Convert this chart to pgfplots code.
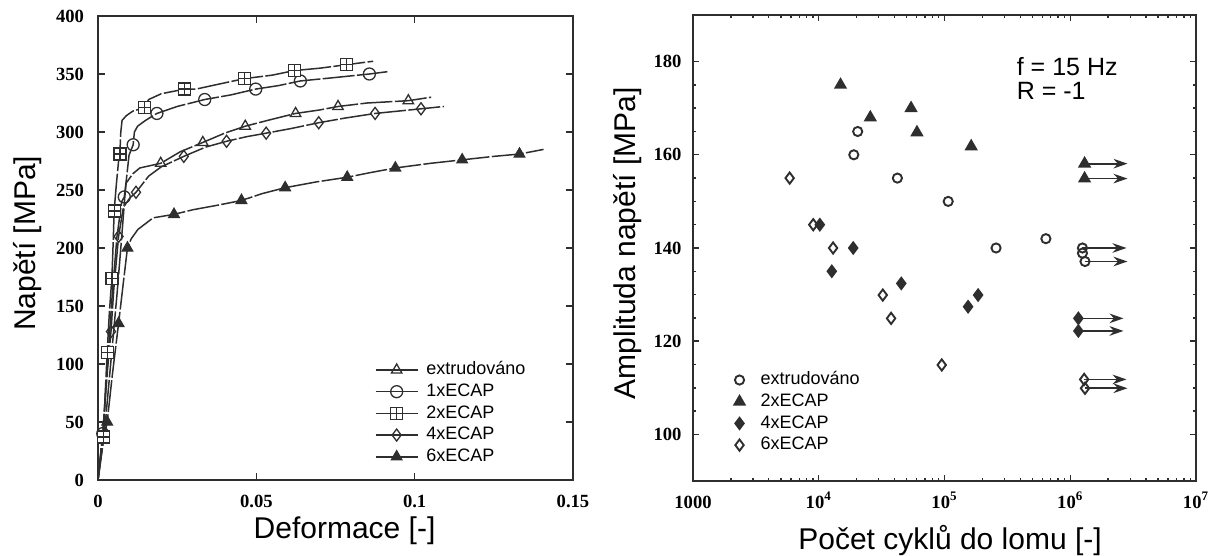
\documentclass[border=0pt]{standalone}
\usepackage{fontspec}
\setmainfont{Liberation Sans}
\newfontfamily\tickfont{Liberation Serif}
\usepackage{pgfplots}
\pgfplotsset{compat=1.18}
\usetikzlibrary{arrows.meta}
\definecolor{ink}{HTML}{2E2E2E}
\pgfdeclareplotmark{boxplus}{%
  \pgfpathrectangle{\pgfqpoint{-\pgfplotmarksize}{-\pgfplotmarksize}}{\pgfqpoint{2\pgfplotmarksize}{2\pgfplotmarksize}}%
  \pgfusepathqfillstroke
  \pgfpathmoveto{\pgfqpoint{-\pgfplotmarksize}{0pt}}\pgfpathlineto{\pgfqpoint{\pgfplotmarksize}{0pt}}%
  \pgfpathmoveto{\pgfqpoint{0pt}{-\pgfplotmarksize}}\pgfpathlineto{\pgfqpoint{0pt}{\pgfplotmarksize}}%
  \pgfusepathqstroke}
\pgfplotsset{
  curve/.style={ink, line width=0.75pt, no markers, dash pattern=on 16pt off 1.2pt},
  mk/.style={only marks, ink, line width=0.65pt, mark size=3pt, mark options={solid, fill=white}},
  mkr/.style={only marks, ink, line width=0.95pt, mark options={solid, fill=white}},
  frame/.style={
    scale only axis, anchor=south west,
    axis line style={ink, line width=1pt},
    every tick/.style={ink, line width=0.7pt},
    tick align=inside,
    tick label style={font=\tickfont\bfseries\fontsize{9.3}{10}\selectfont},
    /pgf/number format/assume math mode=true,
    label style={font=\fontsize{15}{18}\selectfont},
  },
}
\begin{document}
\begin{tikzpicture}
\useasboundingbox (0,0) rectangle (609.5pt,278pt);
% ---------------- left: tensile curves ----------------
\begin{axis}[frame,
  at={(49pt,38pt)}, width=237.5pt, height=232pt,
  xmin=0, xmax=0.15, ymin=0, ymax=400,
  xtick={0,0.05,0.1,0.15}, xticklabels={0,0.05,0.1,0.15},
  ytick={0,50,...,400},
  major tick length=3.5pt,
  xticklabel style={anchor=base, yshift=-13.5pt},
  yticklabel style={xshift=-3.5pt},
  xlabel={Deformace [-]},
  xlabel style={at={(axis description cs:0.519,-0.125)}, anchor=base},
  ylabel={Napětí [MPa]},
  ylabel style={at={(axis description cs:-0.1484,0.51)}, anchor=center},
  legend style={at={(axis description cs:0.583,0.255)}, anchor=north west,
    draw=none, fill=none, inner sep=0pt, outer sep=0pt,
    font=\fontsize{9}{10}\selectfont, row sep=2.55pt, column sep=4pt,
    nodes={inner sep=0pt, text height=6.5pt, text depth=1.8pt}},
  legend cell align=left,
  legend image code/.code={\draw[mark repeat=2,mark phase=2,#1] plot coordinates {(0pt,0pt) (10.5pt,0pt) (21pt,0pt)};},
]
% extrudovano
\addplot[curve, forget plot] coordinates {(0,0) (0.002,40) (0.004,100) (0.006,160) (0.0075,210) (0.0085,245) (0.0089,256) (0.0110,264) (0.0132,269) (0.0198,273) (0.0260,283) (0.0331,291) (0.0400,299) (0.0465,305) (0.0550,311) (0.0624,316) (0.0700,319) (0.0758,322) (0.0850,325) (0.0980,327) (0.1052,330)};
% 1xECAP
\addplot[curve, forget plot] coordinates {(0,0) (0.0015,40) (0.0030,100) (0.0045,160) (0.0060,210) (0.0075,240) (0.0083,244) (0.0090,260) (0.0098,280) (0.0111,289) (0.0115,300) (0.0125,305) (0.0150,310) (0.0186,316) (0.0250,322) (0.0337,328) (0.0420,332) (0.0498,337) (0.0570,340) (0.0639,344) (0.0750,347) (0.0857,350) (0.0914,352)};
% 2xECAP
\addplot[curve, forget plot] coordinates {(0,0) (0.0012,30) (0.0017,37) (0.0022,70) (0.0029,110) (0.0036,145) (0.0044,175) (0.0048,205) (0.0051,232) (0.0058,255) (0.0065,275) (0.0069,281) (0.0072,300) (0.0076,310) (0.0089,314) (0.0110,318) (0.0135,320) (0.0147,321) (0.0160,328) (0.0200,333) (0.0274,337) (0.0310,337) (0.0360,340) (0.0462,346) (0.0550,349) (0.0621,353) (0.0700,355) (0.0784,358) (0.0869,361)};
% 4xECAP
\addplot[curve, forget plot] coordinates {(0,0) (0.0015,40) (0.0030,95) (0.0041,128) (0.0050,165) (0.0065,210) (0.0080,235) (0.0100,243) (0.0120,248) (0.0160,262) (0.0200,270) (0.0271,279) (0.0340,287) (0.0406,292) (0.0470,296) (0.0531,299) (0.0610,303) (0.0697,308) (0.0780,312) (0.0875,316) (0.1020,320) (0.1092,322)};
% 6xECAP
\addplot[curve, forget plot] coordinates {(0,0) (0.0015,30) (0.0029,50) (0.0045,90) (0.0065,135) (0.0080,170) (0.0093,200) (0.0105,208) (0.0126,216) (0.0174,226) (0.0240,229) (0.0300,233) (0.0380,237) (0.0453,241) (0.0520,247) (0.0591,252) (0.0690,257) (0.0787,261) (0.0860,265) (0.0939,269) (0.1050,273) (0.1150,276) (0.1250,279) (0.1331,281) (0.1407,285)};
% markers
\addplot[mk, mark=triangle, forget plot] coordinates {(0.0198,273) (0.0331,291) (0.0465,305) (0.0624,316) (0.0758,322) (0.0980,327)};
\addplot[mk, mark=o, forget plot] coordinates {(0.0015,40) (0.0083,244) (0.0111,289) (0.0186,316) (0.0337,328) (0.0498,337) (0.0639,344) (0.0857,350)};
\addplot[mk, mark=boxplus, forget plot] coordinates {(0.0017,37) (0.0029,110) (0.0044,174) (0.0051,232) (0.0069,281) (0.0147,321) (0.0274,337) (0.0462,346) (0.0621,353) (0.0784,358)};
\addplot[mk, mark=diamond, forget plot] coordinates {(0.0041,128) (0.0065,210) (0.0120,248) (0.0271,279) (0.0406,292) (0.0531,299) (0.0697,308) (0.0875,316) (0.1020,320)};
\addplot[mk, mark=triangle*, mark options={solid, fill=ink}, forget plot] coordinates {(0.0029,50) (0.0065,135) (0.0093,200) (0.0240,229) (0.0453,241) (0.0591,252) (0.0787,261) (0.0939,269) (0.1150,276) (0.1331,281)};
\addlegendimage{ink, line width=0.75pt, mark=triangle, mark size=3pt, mark options={solid, fill=white, line width=0.65pt}}
\addlegendentry{extrudováno}
\addlegendimage{ink, line width=0.75pt, mark=o, mark size=3pt, mark options={solid, fill=white, line width=0.65pt}}
\addlegendentry{1xECAP}
\addlegendimage{ink, line width=0.75pt, mark=boxplus, mark size=3pt, mark options={solid, fill=white, line width=0.65pt}}
\addlegendentry{2xECAP}
\addlegendimage{ink, line width=0.75pt, mark=diamond, mark size=3pt, mark options={solid, fill=white, line width=0.65pt}}
\addlegendentry{4xECAP}
\addlegendimage{ink, line width=0.75pt, mark=triangle*, mark size=3pt, mark options={solid, fill=ink, line width=0.65pt}}
\addlegendentry{6xECAP}
\end{axis}
% ---------------- right: fatigue S-N ----------------
\begin{axis}[frame,
  at={(346.5pt,37.5pt)}, width=251.5pt, height=233pt,
  xmode=log, xmin=1000, xmax=1e7, ymin=90, ymax=190,
  xtick={1000,1e4,1e5,1e6,1e7},
  xticklabels={1000,10\textsuperscript{4},10\textsuperscript{5},10\textsuperscript{6},10\textsuperscript{7}},
  ytick={100,120,...,180}, minor y tick num=3,
  major tick length=3pt, minor tick length=1.6pt,
  xticklabel style={anchor=base, yshift=-13.5pt},
  yticklabel style={xshift=-2.25pt},
  xlabel={Počet cyklů do lomu [-]},
  xlabel style={at={(axis description cs:0.511,-0.148)}, anchor=base},
  ylabel={Amplituda napětí [MPa]},
  ylabel style={at={(axis description cs:-0.130,0.51)}, anchor=center},
  legend style={at={(axis description cs:0.0825,0.2345)}, anchor=north west,
    draw=none, fill=none, inner sep=0pt, outer sep=0pt,
    font=\fontsize{9}{10}\selectfont, row sep=2.55pt, column sep=8pt,
    nodes={inner sep=0pt, text height=6.5pt, text depth=1.8pt}},
  legend cell align=left,
  legend image code/.code={\draw[#1] plot coordinates {(0pt,0pt)};},
]
\pgfplotsset{arr/.style={ink, line width=0.85pt, -{Stealth[length=7pt,width=4.8pt]}, forget plot}}
\addplot[arr] coordinates {(1.30e6,158.1) (2.85e6,158.1)};
\addplot[arr] coordinates {(1.30e6,154.9) (2.85e6,154.9)};
\addplot[arr] coordinates {(1.25e6,140) (2.8e6,140)};
\addplot[arr] coordinates {(1.31e6,137.1) (2.85e6,137.1)};
\addplot[arr] coordinates {(1.16e6,124.9) (2.65e6,124.9)};
\addplot[arr] coordinates {(1.16e6,122.2) (2.65e6,122.2)};
\addplot[arr] coordinates {(1.29e6,111.8) (2.8e6,111.8)};
\addplot[arr] coordinates {(1.31e6,109.9) (2.85e6,109.9)};
\addplot[mkr, mark=o, mark size=2.3pt] coordinates {(2.04e4,165) (1.90e4,160) (4.22e4,155) (1.07e5,150) (2.57e5,140) (6.40e5,142) (1.25e6,140) (1.25e6,138.9) (1.31e6,137.1)};
\addlegendentry{extrudováno}
\addplot[mkr, mark=triangle*, mark size=2.9pt, mark options={solid, fill=ink}] coordinates {(1.49e4,175) (2.57e4,168) (5.42e4,170) (6.04e4,164.8) (1.63e5,161.8) (1.30e6,158.1) (1.30e6,154.9)};
\addlegendentry{2xECAP}
\addplot[mkr, mark=diamond*, mark size=2.8pt, mark options={solid, fill=ink}] coordinates {(1.02e4,145) (1.88e4,140) (1.27e4,135) (4.53e4,132.4) (1.54e5,127.4) (1.85e5,129.9) (1.16e6,124.9) (1.16e6,122.2)};
\addlegendentry{4xECAP}
\addplot[mkr, mark=diamond, mark size=2.8pt] coordinates {(5.87e3,155) (9.04e3,145) (1.30e4,140) (3.23e4,129.9) (3.76e4,124.9) (9.51e4,114.9) (1.29e6,111.8) (1.31e6,109.9)};
\addlegendentry{6xECAP}
\node[anchor=base west, font=\fontsize{12.5}{15}\selectfont, inner sep=0pt] at (axis description cs:0.643,0.871) {f = 15 Hz};
\node[anchor=base west, font=\fontsize{12.5}{15}\selectfont, inner sep=0pt] at (axis description cs:0.643,0.818) {R = -1};
\end{axis}
\end{tikzpicture}
\end{document}
